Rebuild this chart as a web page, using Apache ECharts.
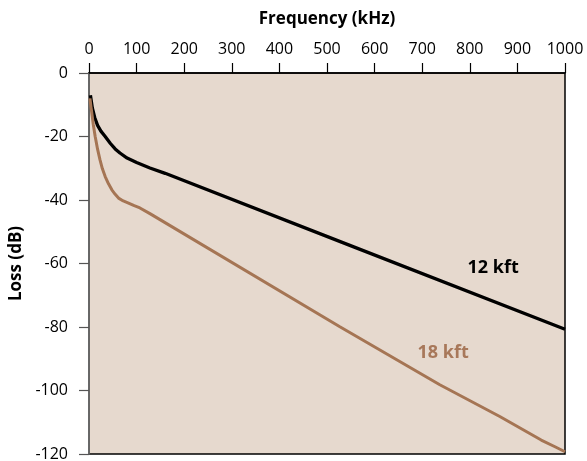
<!DOCTYPE html>
<html>
<head>
<meta charset="utf-8">
<script src="https://cdn.jsdelivr.net/npm/echarts@6/dist/echarts.min.js"></script>
<style>html,body{margin:0;padding:0;background:#fff;}#c{width:587px;height:461px;}</style>
</head>
<body>
<div id="c"></div>
<script>
// Frequency (kHz) and loss (dB)
const freq12 = [3, 7, 12, 18, 25, 34, 45, 55, 65, 80, 100, 128, 160, 548, 1000];
const loss12 = [-7, -11, -14, -16.5, -18.3, -20, -22.2, -23.9, -25.2, -26.8, -28.2, -29.9, -31.6, -54.3, -80.7];
const freq18 = [2, 4, 6, 9, 13, 18, 23, 28, 34, 41, 48, 55, 62, 72, 83, 95, 107, 128, 527, 737, 863, 950, 980, 1000];
const loss18 = [-8, -10.5, -12.7, -16.2, -20, -24, -27.3, -30.1, -32.6, -34.9, -36.8, -38.2, -39.4, -40.3, -41, -41.8, -42.5, -44.3, -79.9, -98.2, -108.2, -115.6, -117.8, -119.3];
const xTicks = [0, 1000, 100];
const yTicks = [-120, 0, 20];
const seriesNames = ['12 kft', '18 kft'];
const labelAt12 = [849, -61.3];
const labelAt18 = [744, -88];

const FONT = '"Open Sans", "Noto Sans", sans-serif';
const chart = echarts.init(document.getElementById('c'));
const zip = (a, b) => a.map((v, i) => [v, b[i]]);
function textPoint(name, coord, color) {
  return {
    symbol: 'circle', symbolSize: 1, silent: true,
    itemStyle: { color: 'rgba(0,0,0,0)' },
    label: { show: true, formatter: name, position: 'inside', color: color,
      fontFamily: FONT, fontWeight: 'bold', fontSize: 18 },
    data: [{ coord: coord }]
  };
}
chart.setOption({
  animation: false,
  backgroundColor: '#ffffff',
  grid: { left: 89, right: 22, top: 73, bottom: 7, show: true, containLabel: false,
    outerBoundsMode: 'none',
    backgroundColor: '#e6d9ce', borderColor: '#000', borderWidth: 1.5 },
  xAxis: {
    type: 'value', position: 'top', min: xTicks[0], max: xTicks[1], interval: xTicks[2],
    name: 'Frequency (kHz)', nameLocation: 'middle', nameGap: 45,
    nameTextStyle: { fontFamily: FONT, fontWeight: 'bold', fontSize: 17, color: '#000' },
    axisLine: { show: true, lineStyle: { color: '#000', width: 1.5 } },
    axisTick: { show: true, inside: false, length: 10, lineStyle: { color: '#000', width: 1.2 } },
    axisLabel: { fontFamily: FONT, fontSize: 16, color: '#000', margin: 16,
      formatter: v => String(v) },
    splitLine: { show: false }
  },
  yAxis: {
    type: 'value', min: yTicks[0], max: yTicks[1], interval: yTicks[2],
    name: 'Loss (dB)', nameLocation: 'middle', nameGap: 62, nameRotate: 90,
    nameTextStyle: { fontFamily: FONT, fontWeight: 'bold', fontSize: 17, color: '#000' },
    axisLine: { show: true, lineStyle: { color: '#777', width: 1.5 } },
    axisTick: { show: true, inside: false, length: 10, lineStyle: { color: '#555', width: 1.2 } },
    axisLabel: { fontFamily: FONT, fontSize: 16, color: '#000', margin: 21,
      formatter: v => String(v) },
    splitLine: { show: false }
  },
  series: [
    { name: seriesNames[0], type: 'line', data: zip(freq12, loss12), showSymbol: false,
      smooth: false, lineStyle: { color: '#000', width: 3.3 },
      markPoint: textPoint(seriesNames[0], labelAt12, '#000') },
    { name: seriesNames[1], type: 'line', data: zip(freq18, loss18), showSymbol: false,
      smooth: false, lineStyle: { color: '#a57554', width: 3 },
      markPoint: textPoint(seriesNames[1], labelAt18, '#a8785a') }
  ]
});
</script>
</body>
</html>
